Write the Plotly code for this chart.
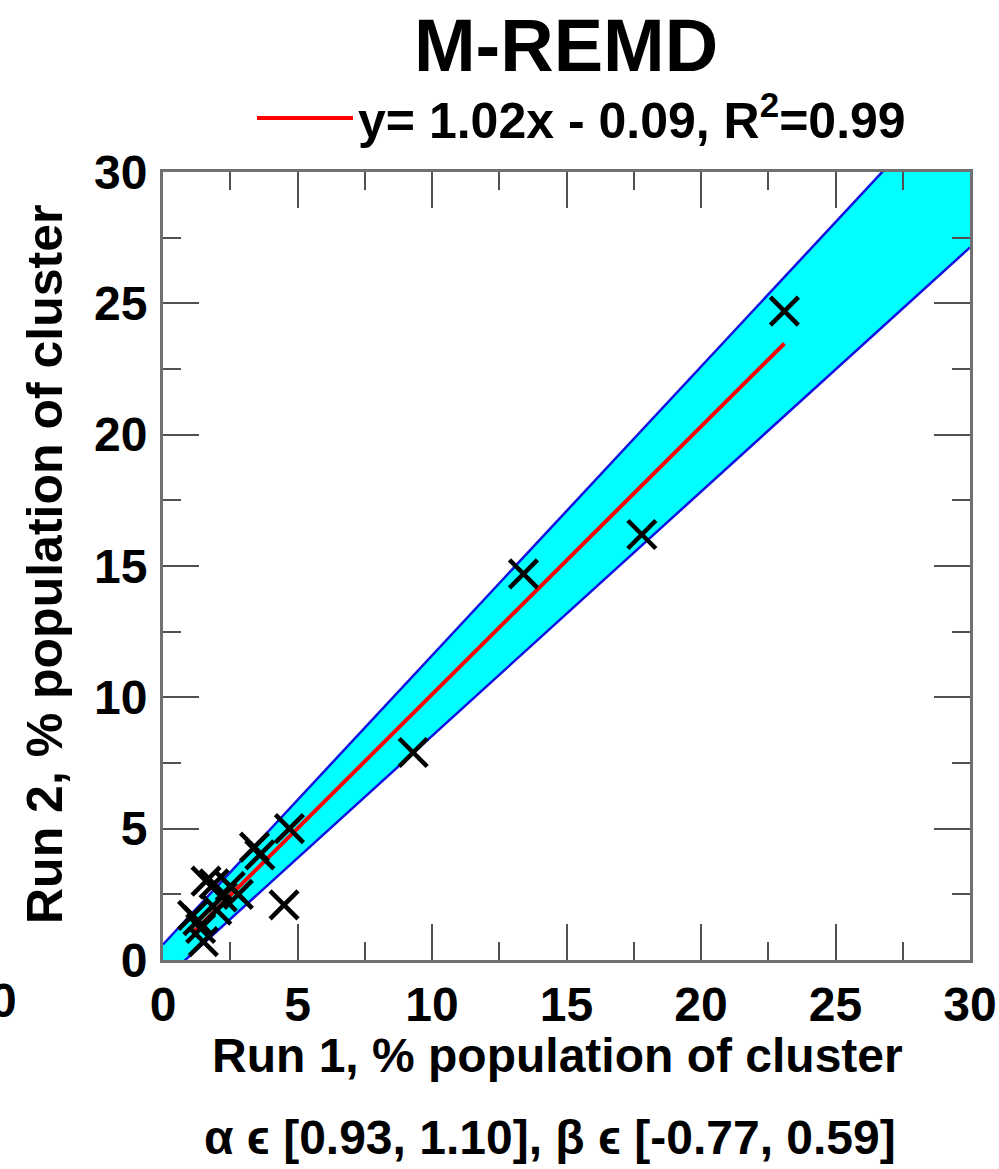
import plotly.graph_objects as go

# Data
run1 = [23.1, 17.8, 13.4, 9.3, 4.7, 4.5, 3.4, 3.6, 2.5, 2.2, 1.9, 2.8, 1.6, 2.0, 1.3, 1.1, 1.4, 1.5]
run2 = [24.7, 16.2, 14.7, 7.9, 5.0, 2.1, 4.3, 4.0, 2.8, 2.4, 2.9, 2.5, 3.0, 1.9, 1.5, 1.7, 1.2, 0.7]

fit_slope = 1.02
fit_intercept = -0.09
alpha_range = [0.93, 1.10]
beta_range = [-0.77, 0.59]
band_x = [0, 30]
tick_vals = [0, 5, 10, 15, 20, 25, 30]

FONT = "Liberation Sans, Arial, sans-serif"

fit_x = [min(run1), max(run1)]
fit_y = [fit_slope * v + fit_intercept for v in fit_x]
upper_y = [alpha_range[1] * v + beta_range[1] for v in band_x]
lower_y = [alpha_range[0] * v + beta_range[0] for v in band_x]

fig = go.Figure()
fig.add_trace(go.Scatter(x=band_x, y=lower_y, mode="lines",
                         line=dict(color="#1010e0", width=2.5), showlegend=False, hoverinfo="skip"))
fig.add_trace(go.Scatter(x=band_x, y=upper_y, mode="lines", fill="tonexty",
                         fillcolor="#00ffff",
                         line=dict(color="#1010e0", width=2.5), showlegend=False, hoverinfo="skip"))
fig.add_trace(go.Scatter(x=fit_x, y=fit_y, mode="lines",
                         line=dict(color="#ff0000", width=4),
                         name="y= 1.02x - 0.09, R<sup>2</sup>=0.99", showlegend=True))
fig.add_trace(go.Scatter(x=run1, y=run2, mode="markers",
                         marker=dict(symbol="x-thin", size=28, line=dict(color="black", width=4.5)),
                         showlegend=False))

axis_common = dict(
    range=[0, 30], tickvals=tick_vals, ticks="inside", ticklen=36, tickwidth=2, tickcolor="#505050",
    showline=True, linecolor="#707070", linewidth=3, mirror="ticks", showgrid=False, zeroline=False,
    tickfont=dict(family=FONT, size=48, color="black", weight="bold"),
    minor=dict(dtick=2.5, tick0=0, ticks="inside", ticklen=18, tickwidth=2, tickcolor="#505050", showgrid=False),
)

fig.update_xaxes(**axis_common, ticklabelstandoff=0)
fig.update_yaxes(**axis_common, ticklabelstandoff=3)

fig.update_layout(
    width=999, height=1169,
    margin=dict(l=163, r=29, t=172, b=209, autoexpand=False),
    plot_bgcolor="white", paper_bgcolor="white",
    title=dict(text="M-REMD", x=566 / 999, xanchor="center", y=1 - 45 / 1169, yanchor="middle",
               yref="container", font=dict(family=FONT, size=74, color="black", weight="bold")),
    legend=dict(x=(252 - 163) / 807, xanchor="left", y=(960 - 118) / 788, yanchor="middle",
                itemwidth=96,
                bgcolor="rgba(0,0,0,0)", font=dict(family=FONT, size=50, color="black", weight="bold")),
    showlegend=True,
    annotations=[
        dict(text="Run 1, % population of cluster", xref="paper", yref="paper",
             x=(557 - 163) / 807, y=(960 - 1055) / 788, xanchor="center", yanchor="middle",
             showarrow=False, font=dict(family=FONT, size=48, color="black", weight="bold")),
        dict(text="Run 2, % population of cluster", xref="paper", yref="paper",
             x=(45 - 163) / 807, y=(960 - 565) / 788, xanchor="center", yanchor="middle", textangle=-90,
             showarrow=False, font=dict(family=FONT, size=50, color="black", weight="bold")),
        dict(text="α ϵ [0.93, 1.10], β ϵ [-0.77, 0.59]", xref="paper", yref="paper",
             x=(550 - 163) / 807, y=(960 - 1137) / 788, xanchor="center", yanchor="middle",
             showarrow=False, font=dict(family=FONT, size=48, color="black", weight="bold")),
        dict(text="0", xref="paper", yref="paper",
             x=(3 - 163) / 807, y=(960 - 1000) / 788, xanchor="center", yanchor="middle",
             showarrow=False, font=dict(family=FONT, size=48, color="black", weight="bold")),
    ],
)

fig.write_html("out.html")
